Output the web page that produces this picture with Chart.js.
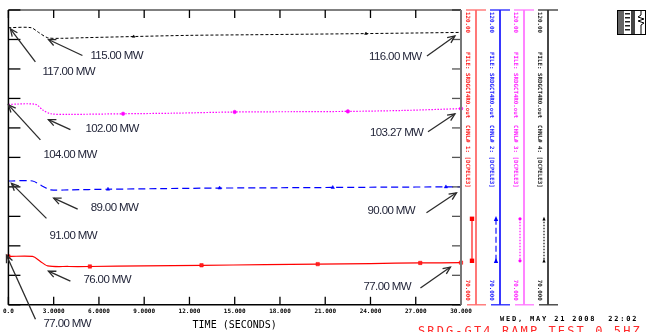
<!DOCTYPE html>
<html><head><meta charset="utf-8">
<script src="https://cdn.jsdelivr.net/npm/chart.js@4/dist/chart.umd.min.js"></script>
<style>html,body{margin:0;padding:0;background:#fff;overflow:hidden}</style>
</head><body>
<canvas id="c" width="647" height="332"></canvas>
<script>
// ---------- data ----------
const xTickValues = [0, 3, 6, 9, 12, 15, 18, 21, 24, 27, 30];
const xTickLabels = ['0.0', '3.0000', '6.0000', '9.0000', '12.000', '15.000', '18.000', '21.000', '24.000', '27.000', '30.000'];
const yTickValues = [70, 75, 80, 85, 90, 95, 100, 105, 110, 115, 120];
const xAxisTitle = 'TIME (SECONDS)';

const blackTime = [0, 1.5, 2.0, 2.6, 3.5, 5, 8.3, 12, 16, 20, 23.7, 27, 30];
const blackMW   = [117.0, 117.0, 116.2, 115.3, 115.2, 115.3, 115.5, 115.7, 115.8, 115.9, 116.0, 116.1, 116.2];
const blackMarks = [8.3, 23.7];

const magentaTime = [0, 1.8, 2.3, 2.8, 4, 7.6, 11, 15, 19, 22.5, 26, 30];
const magentaMW   = [104.0, 104.0, 103.0, 102.4, 102.3, 102.4, 102.5, 102.7, 102.75, 102.8, 102.95, 103.27];
const magentaMarks = [7.6, 15, 22.5, 30];

const blueTime = [0, 1.6, 2.2, 2.8, 4, 6.6, 10, 14, 18, 21.5, 25, 29, 30];
const blueMW   = [91.0, 91.0, 90.2, 89.5, 89.5, 89.6, 89.7, 89.8, 89.85, 89.9, 89.95, 90.0, 90.0];
const blueMarks = [6.6, 14, 21.5, 29];

const redTime = [0, 1.6, 2.1, 2.6, 4, 5.4, 9, 12.8, 17, 20.5, 24, 27.3, 30];
const redMW   = [78.2, 78.2, 77.4, 76.6, 76.5, 76.5, 76.6, 76.7, 76.8, 76.9, 77.0, 77.1, 77.15];
const redMarks = [0, 5.4, 12.8, 20.5, 27.3, 30];

const annoLabels  = ['117.00 MW', '115.00 MW', '116.00 MW', '104.00 MW', '102.00 MW', '103.27 MW', '91.00 MW', '89.00 MW', '90.00 MW', '77.00 MW', '76.00 MW', '77.00 MW'];
const annoTipTime = [0.13, 2.65, 29.6, 0.0, 2.65, 29.6, 0.2, 3.0, 29.7, -0.13, 2.65, 29.3];
const annoTipMW   = [116.8, 115.0, 115.6, 103.9, 101.4, 102.4, 90.6, 88.1, 89.0, 78.4, 75.7, 76.4];

const channelTop = ['120.00', '120.00', '120.00', '120.00'];
const channelBottom = ['70.000', '70.000', '70.000', '70.000'];
const channelFile = ['FILE: SRDGCT4R0.out', 'FILE: SRDGCT4R0.out', 'FILE: SRDGCT4R0.out', 'FILE: SRDGCT4R0.out'];
const channelName = ['CHNL# 1: [DCPELE3]', 'CHNL# 2: [DCPELE3]', 'CHNL# 3: [DCPELE3]', 'CHNL# 4: [DCPELE3]'];
const dateText = 'WED, MAY 21 2008  22:02';
const titleText = 'SRDG-GT4 RAMP TEST 0.5HZ';

// ---------- styles / layout (not data) ----------
const annoTail = [[25,33],[34,16],[-28,20],[32,35],[22,10],[-27,18],[35,35],[24,11],[-30,20],[29,64],[22,10],[-30,21]];
const annoText = [[32,43],[42,16],[-86,21],[35,50],[37,9],[-85,19],[38,52],[37,10],[-89,18],[37,69],[35,9],[-87,20]];
const sideStyles = [
  {axis:'#ff6a6a', text:'#ff1a1a', line:'#ff0000', dash:[], mark:'rect', r:2.2},
  {axis:'#2222ff', text:'#1a1aff', line:'#0000ff', dash:[6,3], mark:'triangle', r:2.2},
  {axis:'#ff77ff', text:'#ff22ff', line:'#ff00ff', dash:[1.5,1.5], mark:'circle', r:1.6},
  {axis:'#333333', text:'#222222', line:'#000000', dash:[1.5,1.5], mark:'triangle', r:1.6}
];

function pts(t, v) { return t.map((tt, i) => ({x: tt, y: v[i]})); }
function markRadius(marks, r) { return ctx => (ctx.raw && marks.includes(ctx.raw.x)) ? r : 0; }

const datasets = [
  {data: pts(blackTime, blackMW), borderColor:'#000', borderWidth:1, borderDash:[3,2], pointStyle:'triangle',
   pointRadius: markRadius(blackMarks, 1.6), pointBackgroundColor:'#000', pointBorderColor:'#000', pointBorderWidth:0.5},
  {data: pts(magentaTime, magentaMW), borderColor:'#ff00ff', borderWidth:1.2, borderDash:[1.5,1.5], pointStyle:'circle',
   pointRadius: markRadius(magentaMarks, 1.8), pointBackgroundColor:'#ff00ff', pointBorderColor:'#ff00ff', pointBorderWidth:0.5},
  {data: pts(blueTime, blueMW), borderColor:'#0000ff', borderWidth:1.2, borderDash:[7,4], pointStyle:'triangle',
   pointRadius: markRadius(blueMarks, 2), pointBackgroundColor:'#0000ff', pointBorderColor:'#0000ff', pointBorderWidth:0.5},
  {data: pts(redTime, redMW), borderColor:'#ff0000', borderWidth:1.2, pointStyle:'rect',
   pointRadius: markRadius(redMarks, 2.4), pointBackgroundColor:'#ff2020', pointBorderColor:'#ff0000', pointBorderWidth:0.5}
];
datasets.forEach(d => { d.tension = 0.3; d.clip = 6; d.fill = false; });

function line(ctx, x1, y1, x2, y2) { ctx.beginPath(); ctx.moveTo(x1, y1); ctx.lineTo(x2, y2); ctx.stroke(); }
function arrow(ctx, x1, y1, x2, y2) {
  line(ctx, x1, y1, x2, y2);
  const ang = Math.atan2(y2 - y1, x2 - x1), L = 8, w = 0.42;
  ctx.beginPath();
  ctx.moveTo(x2 - L * Math.cos(ang - w), y2 - L * Math.sin(ang - w));
  ctx.lineTo(x2, y2);
  ctx.lineTo(x2 - L * Math.cos(ang + w), y2 - L * Math.sin(ang + w));
  ctx.stroke();
}
function marker(ctx, style, x, y, r, color) {
  ctx.save(); ctx.fillStyle = color; ctx.strokeStyle = color; ctx.setLineDash([]);
  if (style === 'rect') ctx.fillRect(x - r, y - r, 2 * r, 2 * r);
  else if (style === 'circle') { ctx.beginPath(); ctx.arc(x, y, r, 0, Math.PI * 2); ctx.fill(); }
  else { ctx.beginPath(); ctx.moveTo(x, y - r * 1.3); ctx.lineTo(x + r, y + r); ctx.lineTo(x - r, y + r); ctx.closePath(); ctx.fill(); }
  ctx.restore();
}

const pssPlugin = {
  id: 'pss',
  afterDatasetsDraw(chart) {
    const {ctx, chartArea: a, scales: {x, y}} = chart;
    ctx.save();
    ctx.setLineDash([]);
    // inner tick marks
    ctx.strokeStyle = '#000'; ctx.lineWidth = 1.3;
    xTickValues.forEach(t => {
      const px = x.getPixelForValue(t);
      line(ctx, px, a.top, px, a.top + 8);
      line(ctx, px, a.bottom, px, a.bottom - 8);
    });
    yTickValues.forEach(v => {
      const py = y.getPixelForValue(v);
      ctx.strokeStyle = '#000'; line(ctx, a.left, py, a.left + 12, py);
      ctx.strokeStyle = '#555'; line(ctx, a.right, py, a.right - 9, py);
    });
    // frame
    ctx.strokeStyle = '#000'; ctx.lineWidth = 1;
    line(ctx, a.left, a.top, a.right, a.top);
    ctx.lineWidth = 1.5;
    line(ctx, a.left, a.top, a.left, a.bottom);
    line(ctx, a.left, a.bottom, a.right, a.bottom);
    ctx.strokeStyle = '#777'; ctx.lineWidth = 2;
    line(ctx, a.right, a.top, a.right, a.bottom);

    // side channel axes
    const top = y.getPixelForValue(120), bot = y.getPixelForValue(70);
    sideStyles.forEach((s, i) => {
      const lx = a.right + 15 + i * 24;
      ctx.setLineDash([]);
      ctx.strokeStyle = s.axis; ctx.lineWidth = 1.8;
      line(ctx, lx, top, lx, bot);
      ctx.lineWidth = 1.3;
      line(ctx, lx - 10, top, lx + 10, top);
      line(ctx, lx - 9, bot, lx + 10, bot);
      // legend sample
      const sx = lx - 4, sy1 = bot - 86, sy2 = bot - 44;
      ctx.strokeStyle = s.line; ctx.lineWidth = 1.1; ctx.setLineDash(s.dash);
      line(ctx, sx, sy1, sx, sy2);
      ctx.setLineDash([]);
      marker(ctx, s.mark, sx, sy1, s.r, s.line);
      marker(ctx, s.mark, sx, sy2, s.r, s.line);
      // rotated text
      ctx.save();
      ctx.fillStyle = s.text;
      ctx.font = 'bold 5.8px "DejaVu Sans Mono"';
      ctx.textBaseline = 'middle';
      ctx.translate(lx - 8, 0);
      ctx.rotate(Math.PI / 2);
      ctx.textAlign = 'left';
      ctx.fillText(channelTop[i], top + 2, 0);
      ctx.fillText(channelFile[i], top + 42, 0);
      ctx.fillText(channelName[i], top + 115, 0);
      ctx.textAlign = 'right';
      ctx.fillText(channelBottom[i], bot - 4, 0);
      ctx.restore();
    });

    // annotations
    ctx.setLineDash([]);
    ctx.strokeStyle = '#2b2b2b'; ctx.lineWidth = 1.3;
    ctx.fillStyle = '#23263a';
    ctx.font = '11.5px "Liberation Sans", Arial, sans-serif';
    ctx.letterSpacing = '-0.6px';
    ctx.textAlign = 'left'; ctx.textBaseline = 'middle';
    annoLabels.forEach((lab, i) => {
      const tx = x.getPixelForValue(annoTipTime[i]), ty = y.getPixelForValue(annoTipMW[i]);
      arrow(ctx, tx + annoTail[i][0], ty + annoTail[i][1], tx, ty);
      ctx.fillText(lab, tx + annoText[i][0], ty + annoText[i][1]);
    });
    ctx.letterSpacing = '0px';

    // footer texts
    ctx.fillStyle = '#000';
    ctx.font = 'bold 7px "DejaVu Sans Mono"';
    ctx.letterSpacing = '1.8px';
    ctx.textBaseline = 'alphabetic';
    ctx.fillText(dateText, 500, 321);
    ctx.fillStyle = '#ff2a2a';
    ctx.font = '12px "DejaVu Sans Mono"';
    ctx.letterSpacing = '2.1px';
    ctx.fillText(titleText, 418, 335);
    ctx.letterSpacing = '0px';

    // small logo box at top right
    ctx.setLineDash([]);
    ctx.fillStyle = '#666'; ctx.fillRect(617, 10, 7, 25);
    ctx.fillStyle = '#fff'; ctx.fillRect(624, 11, 7, 23);
    ctx.fillStyle = '#444'; ctx.fillRect(631, 10, 4, 25);
    ctx.strokeStyle = '#000'; ctx.lineWidth = 1;
    ctx.strokeRect(617.5, 10.5, 28, 24);
    ctx.fillStyle = '#222';
    for (let k = 0; k < 5; k++) ctx.fillRect(625, 13 + k * 4, 5, 1.5);
    ctx.beginPath();
    ctx.moveTo(641, 11); ctx.lineTo(641, 15); ctx.lineTo(638, 17); ctx.lineTo(644, 19); ctx.lineTo(638, 21);
    ctx.lineTo(644, 23); ctx.lineTo(641, 25); ctx.lineTo(641, 34);
    ctx.stroke();
    ctx.restore();
  }
};

new Chart(document.getElementById('c'), {
  type: 'line',
  data: {datasets},
  options: {
    responsive: false,
    animation: false,
    events: [],
    layout: {padding: {left: 8, top: 10, right: 186, bottom: 1}},
    plugins: {legend: {display: false}, tooltip: {enabled: false}},
    scales: {
      x: {
        type: 'linear', min: 0, max: 30,
        afterBuildTicks: s => { s.ticks = xTickValues.map(v => ({value: v})); },
        border: {display: false},
        grid: {display: false, drawTicks: false},
        ticks: {
          autoSkip: false, maxRotation: 0, padding: 3, color: '#000',
          font: {family: 'DejaVu Sans Mono', size: 6, weight: 'bold'},
          callback: v => xTickLabels[xTickValues.indexOf(v)]
        },
        title: {display: true, text: xAxisTitle, color: '#000', padding: {top: 1, bottom: 0},
          font: {family: 'DejaVu Sans Mono', size: 10}}
      },
      y: {type: 'linear', min: 70, max: 120, display: false}
    }
  },
  plugins: [pssPlugin]
});
</script>
</body></html>
